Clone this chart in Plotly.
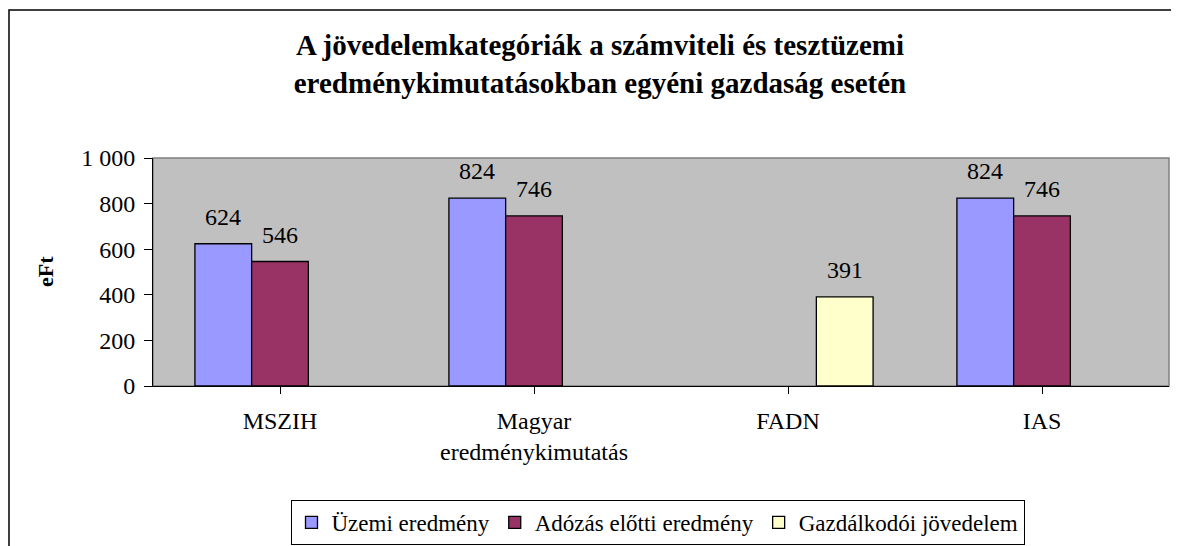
import plotly.graph_objects as go

# ---- data ----
categories = ["MSZIH", "Magyar<br>eredménykimutatás", "FADN", "IAS"]
series_names = ["Üzemi eredmény", "Adózás előtti eredmény", "Gazdálkodói jövedelem"]
uzemi = [624, 824, None, 824]
adozas = [546, 746, None, 746]
gazd = [None, None, 391, None]
y_tickvals = [0, 200, 400, 600, 800, 1000]
y_ticktext = ["0", "200", "400", "600", "800", "1 000"]
title_text = ("A jövedelemkategóriák a számviteli és tesztüzemi<br>"
              "eredménykimutatásokban egyéni gazdaság esetén")

colors = ["#9999FF", "#993366", "#FFFFCC"]
FONT = "'Liberation Serif', 'Times New Roman', serif"

# page body has an 8px margin, so figure coords = screen coords - 8
W, H = 1171, 538
L, R, T, B = 145, 10, 150, 160
BARGAP = 0.33

fig = go.Figure()
all_series = [uzemi, adozas, gazd]
for name, vals, col in zip(series_names, all_series, colors):
    fig.add_trace(go.Bar(
        x=list(range(len(categories))), y=vals, name=name,
        marker=dict(color=col, line=dict(color="black", width=1.3)),
    ))

# data labels as annotations above bars
w = (1 - BARGAP) / len(all_series)
annotations = []
for j, vals in enumerate(all_series):
    for i, v in enumerate(vals):
        if v is None:
            continue
        annotations.append(dict(
            x=i + (j - 1) * w, y=v, xref="x", yref="y",
            text=str(v), showarrow=False, yanchor="bottom",
            yshift=12, font=dict(family=FONT, size=24, color="black"),
        ))

plot_h = H - T - B
plot_w = W - L - R

# y-axis title
annotations.append(dict(
    x=(37 - L) / plot_w, y=0.5, xref="paper", yref="paper",
    xanchor="center", yanchor="middle",
    text="<b>eFt</b>", textangle=-90, showarrow=False,
    font=dict(family=FONT, size=22, color="black"),
))

shapes = [
    # plot area border (gray)
    dict(type="rect", xref="paper", yref="paper", x0=0, x1=1, y0=0, y1=1,
         line=dict(color="#808080", width=1.5), layer="below"),
    # outer chart frame
    dict(type="rect", xref="paper", yref="paper",
         x0=(1 - L) / plot_w, x1=(W + 30 - L) / plot_w,
         y0=-(H + 30 - (H - B)) / plot_h, y1=((H - B) - 2) / plot_h,
         line=dict(color="black", width=1.5), layer="below"),
]

fig.update_layout(
    width=W, height=H,
    margin=dict(l=L, r=R, t=T, b=B, pad=0, autoexpand=False),
    paper_bgcolor="white", plot_bgcolor="#C0C0C0",
    barmode="group", bargap=BARGAP, bargroupgap=0,
    font=dict(family=FONT, size=24, color="black"),
    title=dict(text="<b>" + title_text + "</b>", x=592 / W, xref="container",
               xanchor="center", y=1 - 47 / H, yref="container", yanchor="top",
               font=dict(family=FONT, size=29, color="black")),
    xaxis=dict(
        tickvals=list(range(len(categories))), ticktext=categories,
        range=[-0.5, len(categories) - 0.5],
        showline=True, linecolor="black", linewidth=1,
        ticks="outside", ticklen=7, tickcolor="black", tickson="boundaries",
        tickfont=dict(family=FONT, size=24), ticklabelstandoff=6,
        showgrid=False, zeroline=False,
    ),
    yaxis=dict(
        range=[0, 1000], tickvals=y_tickvals, ticktext=y_ticktext,
        showline=True, linecolor="black", linewidth=1,
        ticks="outside", ticklen=8, tickcolor="black",
        tickfont=dict(family=FONT, size=24), ticklabelstandoff=4,
        showgrid=False, zeroline=False,
    ),
    legend=dict(
        orientation="h", xref="container", yref="container",
        x=649.5 / W, xanchor="center",
        y=1 - 492 / H, yanchor="top",
        bordercolor="black", borderwidth=1, bgcolor="white",
        font=dict(family=FONT, size=23), itemclick=False,
    ),
    annotations=annotations, shapes=shapes,
    showlegend=True,
)

fig.write_html("out.html")
